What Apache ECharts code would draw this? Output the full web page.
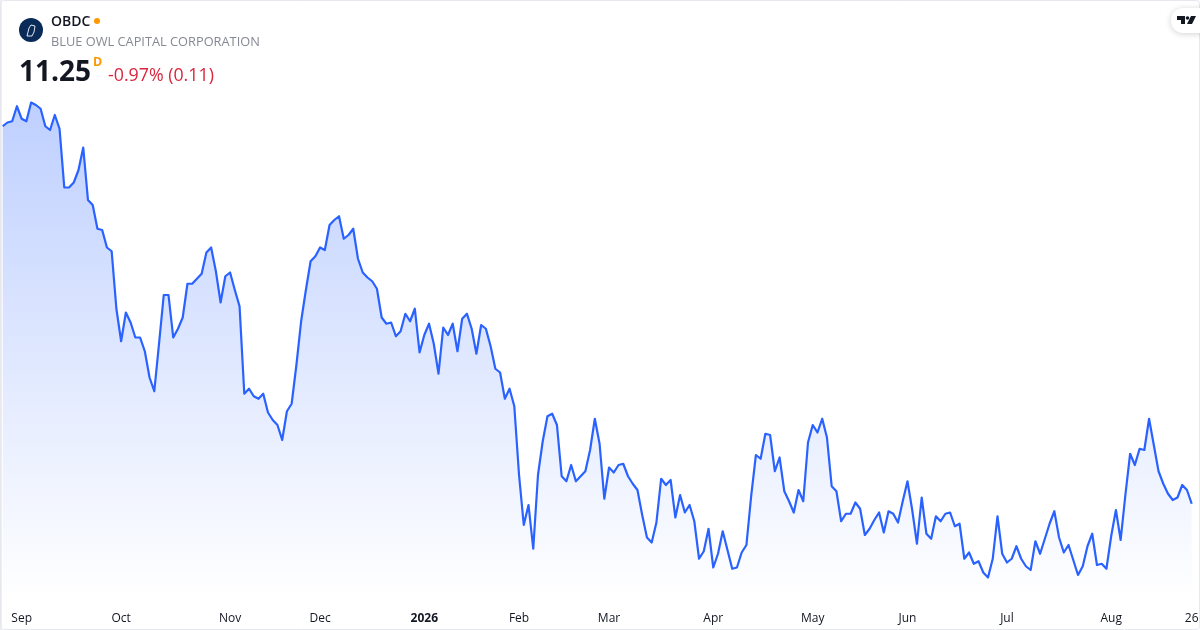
<!DOCTYPE html>
<html>
<head>
<meta charset="utf-8">
<style>html,body{margin:0;padding:0;background:#fff}#c{width:1200px;height:630px}</style>
<script src="https://cdn.jsdelivr.net/npm/echarts@6/dist/echarts.min.js"></script>
</head>
<body>
<div id="c"></div>
<script>
var prices = [
14.27,14.30,14.31,14.43,14.33,14.31,14.46,14.44,14.41,14.27,14.24,14.36,14.25,13.78,13.78,13.82,13.92,14.10,13.68,13.64,
13.45,13.44,13.30,13.27,12.81,12.55,12.78,12.70,12.58,12.58,12.47,12.26,12.15,12.53,12.92,12.92,12.58,12.65,12.74,13.01,
13.01,13.05,13.09,13.26,13.30,13.11,12.86,13.07,13.10,12.96,12.83,12.13,12.17,12.11,12.09,12.13,11.98,11.92,11.88,11.76,
11.99,12.05,12.36,12.71,12.96,13.19,13.23,13.30,13.28,13.48,13.52,13.55,13.37,13.40,13.45,13.21,13.10,13.06,13.03,12.97,
12.74,12.69,12.70,12.59,12.63,12.77,12.71,12.81,12.46,12.60,12.69,12.53,12.29,12.66,12.60,12.69,12.47,12.73,12.77,12.65,
12.45,12.68,12.65,12.51,12.33,12.30,12.09,12.17,12.03,11.48,11.08,11.24,10.89,11.48,11.75,11.95,11.97,11.88,11.47,11.43,
11.56,11.43,11.47,11.51,11.68,11.93,11.73,11.29,11.54,11.50,11.56,11.57,11.47,11.41,11.36,11.16,10.98,10.94,11.10,11.45,
11.40,11.44,11.14,11.32,11.18,11.24,11.11,10.81,10.87,11.05,10.74,10.85,11.03,10.88,10.73,10.74,10.86,10.92,11.31,11.64,
11.61,11.81,11.80,11.51,11.62,11.35,11.27,11.18,11.36,11.27,11.74,11.88,11.82,11.93,11.78,11.39,11.35,11.11,11.17,11.17,
11.26,11.21,11.00,11.05,11.12,11.18,11.02,11.19,11.17,11.10,11.27,11.43,11.20,10.93,11.30,11.01,10.97,11.15,11.11,11.17,
11.18,11.07,11.09,10.81,10.86,10.77,10.79,10.70,10.66,10.81,11.15,10.85,10.78,10.81,10.91,10.81,10.75,10.72,10.95,10.85,
10.97,11.09,11.19,10.98,10.86,10.92,10.80,10.68,10.75,10.91,11.01,10.76,10.77,10.73,10.99,11.20,10.96,11.32,11.65,11.56,
11.69,11.68,11.93,11.72,11.51,11.41,11.33,11.28,11.30,11.40,11.36,11.25
];
var tickIndex = [4,25,48,67,89,109,128,150,171,191,212,234,251];
var tickLabels = ['Sep','Oct','Nov','Dec','2026','Feb','Mar','Apr','May','Jun','Jul','Aug','26'];
var categories = prices.map(function (_, i) { return i; });

var FONT = '"Open Sans","Noto Sans",sans-serif';
var chart = echarts.init(document.getElementById('c'), null, {renderer: 'canvas'});
chart.setOption({
  animation: false,
  backgroundColor: '#fff',
  grid: {left: 2.7, right: 8.3, top: 100, bottom: 30, outerBoundsMode: 'none'},
  xAxis: {
    type: 'category', data: categories, boundaryGap: false,
    axisLine: {show: false}, axisTick: {show: false}, splitLine: {show: false},
    axisLabel: {
      interval: function (i) { return tickIndex.indexOf(i) >= 0; },
      margin: 13, fontFamily: FONT, fontSize: 12, color: '#131722', hideOverlap: false,
      formatter: function (v) {
        var s = tickLabels[tickIndex.indexOf(+v)];
        return s === '2026' ? '{b|' + s + '}' : s;
      },
      rich: {b: {fontFamily: FONT, fontSize: 12, fontWeight: 700, color: '#131722'}}
    }
  },
  yAxis: {type: 'value', min: 10.48, max: 14.48, show: false, splitLine: {show: false}},
  series: [{
    type: 'line', data: prices, symbol: 'none', smooth: false, clip: false,
    lineStyle: {color: '#2962ff', width: 2.2, join: 'round'},
    areaStyle: {opacity: 1, color: new echarts.graphic.LinearGradient(0, 0, 0, 1, [
      {offset: 0, color: 'rgba(41,98,255,0.30)'},
      {offset: 1, color: 'rgba(41,98,255,0)'}
    ])}
  }],
  graphic: [
    {type: 'rect', silent: true, z: 100, shape: {x: 0, y: 0, width: 2, height: 630}, style: {fill: '#eeeff2'}},
    {type: 'rect', silent: true, z: 100, shape: {x: 0.5, y: 0.5, width: 1199, height: 629, r: 3}, style: {fill: 'none', stroke: '#e6e8ee', lineWidth: 1}},
    {type: 'circle', z: 101, shape: {cx: 31, cy: 30, r: 12}, style: {fill: '#0a2a58'}},
    {type: 'polyline', z: 102, shape: {points: [[27,36],[29,28],[31,25],[35,26],[34,32],[32,36],[27,36]]}, style: {fill: 'none', stroke: '#dfe6f2', lineWidth: 1}},
    {type: 'text', z: 101, style: {x: 51, y: 22, text: 'OBDC', fontFamily: FONT, fontSize: 14, fontWeight: 600, fill: '#131722', verticalAlign: 'middle'}},
    {type: 'circle', z: 101, shape: {cx: 97, cy: 21, r: 3}, style: {fill: '#ff9800'}},
    {type: 'text', z: 101, style: {x: 51, y: 42, text: 'BLUE OWL CAPITAL CORPORATION', fontFamily: FONT, fontSize: 12.8, fill: '#868993', verticalAlign: 'middle'}},
    {type: 'text', z: 101, style: {x: 19, y: 73, text: '11.25', fontFamily: FONT, fontSize: 28, fontWeight: 700, fill: '#131722', verticalAlign: 'middle'}},
    {type: 'text', z: 101, style: {x: 93, y: 62, text: 'D', fontFamily: FONT, fontSize: 12.5, fontWeight: 700, fill: '#ff9800', verticalAlign: 'middle'}},
    {type: 'text', z: 101, style: {x: 108, y: 76, text: '-0.97% (0.11)', fontFamily: FONT, fontSize: 17.8, fill: '#d9263f', verticalAlign: 'middle'}},
    {type: 'rect', z: 101, shape: {x: 1171, y: 8, width: 40, height: 25, r: 12}, style: {fill: '#fff', shadowBlur: 6, shadowColor: 'rgba(0,0,0,0.18)', shadowOffsetY: 1}},
    {type: 'polygon', z: 102, shape: {points: [[1177,16],[1185,16],[1185,24],[1181,24],[1181,20],[1177,20]]}, style: {fill: '#131722'}},
    {type: 'circle', z: 102, shape: {cx: 1187.5, cy: 18, r: 1.8}, style: {fill: '#131722'}},
    {type: 'polygon', z: 102, shape: {points: [[1191,16],[1196,16],[1192,24],[1187,24]]}, style: {fill: '#131722'}}
  ]
});
</script>
</body>
</html>
